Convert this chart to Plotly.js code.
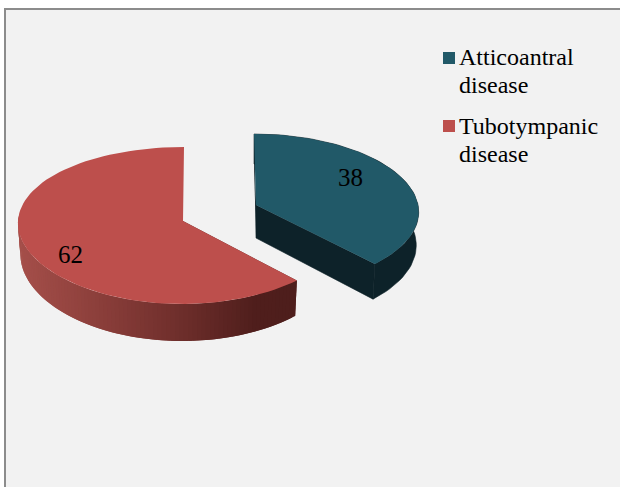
<!DOCTYPE html>
<html>
<head>
<meta charset="utf-8">
<script src="https://cdn.plot.ly/plotly-3.0.1.min.js"></script>
<style>html,body{margin:0;padding:0;background:#fff}#chart{width:620px;height:487px}</style>
</head>
<body>
<div id="chart"></div>
<script>
// Share of chronic ear disease types, drawn as an exploded tilted pie.
const categories = ["Atticoantral disease", "Tubotympanic disease"];
const values = [38, 62];
const legendLines = [["Atticoantral", "disease"], ["Tubotympanic", "disease"]];
const topColors = ["#215968", "#bd4f4c"];
const cutColors = ["#0d2229", "#57211f"];

// Rim shading runs left to right across the drawing: [x, r, g, b].
const rimStops = [
  [[0, 13, 34, 41], [620, 13, 34, 41]],
  [[20, 165, 79, 74], [100, 140, 63, 59], [180, 112, 47, 44], [260, 79, 30, 28], [297, 78, 30, 28]]
];

// Tilted-disc projection for each slice, in axis units.
const discs = [
  {cx: 256, cy: 205, a: 162, k: 0.08, skew: 2, b: 76.7, c: 5.7, d0: 33, d1: 3, bands: 1, shrink: 0.015},
  {cx: 183, cy: 221, a: 165, k: 0.02, skew: -1, b: 78.5, c: 4.5, d0: 31, d1: 6, bands: 90, shrink: 0.015}
];
const labelAnchors = [[350, 177], [70, 254.5]];
const total = values.reduce((s, v) => s + v, 0);

function project(d, theta, r, z) {
  const u = r * Math.sin(theta), v = -r * Math.cos(theta);
  const x = d.a * u * (1 + d.k * v) * (1 - d.shrink * z) + d.skew * v;
  return [d.cx + x, d.cy + d.b * v + d.c * v * v + z * (d.d0 + d.d1 * v)];
}

function poly(points, color, lineWidth) {
  const pts = points.concat([points[0]]);
  return {
    type: "scatter", mode: "lines", fill: "toself", fillcolor: color,
    x: pts.map(p => p[0]), y: pts.map(p => p[1]),
    line: {color: color, width: lineWidth || 0},
    hoverinfo: "skip", showlegend: false
  };
}

function shade(stops, x) {
  if (x <= stops[0][0]) return `rgb(${stops[0].slice(1).join(",")})`;
  for (let i = 1; i < stops.length; i++) {
    if (x <= stops[i][0]) {
      const t = (x - stops[i - 1][0]) / (stops[i][0] - stops[i - 1][0]);
      const c = [1, 2, 3].map(j => Math.round(stops[i - 1][j] + t * (stops[i][j] - stops[i - 1][j])));
      return `rgb(${c.join(",")})`;
    }
  }
  return `rgb(${stops[stops.length - 1].slice(1).join(",")})`;
}

function arc(d, from, to, z, n) {
  const out = [];
  for (let i = 0; i <= n; i++) out.push(project(d, from + (to - from) * i / n, 1, z));
  return out;
}

const traces = [];
let start = 0;
values.forEach((value, i) => {
  const d = discs[i];
  const from = start, to = start + value / total * 2 * Math.PI;
  start = to;

  // Cut face at the leading edge of the slice.
  traces.push(poly([project(d, from, 0, 0), project(d, from, 1, 0), project(d, from, 1, 1), project(d, from, 0, 1)], cutColors[i]));

  // Outer rim, only the part turned towards the viewer. Bands are painted from
  // the far end inwards, each one running under the next so no seams show.
  const rimEnd = Math.min(to, 1.52 * Math.PI);
  const step = (rimEnd - from) / d.bands;
  const segments = d.bands === 1 ? 60 : 4;
  const rimTraces = [];
  for (let b = 0; b < d.bands; b++) {
    const t0 = from + step * b;
    const t1 = Math.min(t0 + step * 2, rimEnd);
    const upper = arc(d, t0, t1, 0, segments), lower = arc(d, t0, t1, 1, segments).reverse();
    const midX = project(d, t0 + step / 2, 1, 0)[0];
    rimTraces.push(poly(upper.concat(lower), shade(rimStops[i], midX), i === 0 ? 0.6 : 0));
  }
  rimTraces.reverse().forEach(t => traces.push(t));

  // Cut face at the trailing edge, seen on the blue slice only.
  if (i === 0) {
    traces.push(poly([project(d, to, 0, 0), project(d, to, 1, 0), project(d, to, 1, 1), project(d, to, 0, 1)], cutColors[i], 0.6));
  }

  // Top face.
  const top = [project(d, from, 0, 0)].concat(arc(d, from, to, 0, 90));
  const face = poly(top, topColors[i]);
  face.name = categories[i];
  traces.push(face);
});

const annotations = values.map((v, i) => ({
  x: labelAnchors[i][0], y: labelAnchors[i][1], xref: "x", yref: "y",
  text: String(v), showarrow: false, xanchor: "center", yanchor: "middle",
  font: {family: "Liberation Serif", size: 25, color: "#000"}
}));

// Key on the right: two lines of text per entry with a square swatch.
const keyRows = [[57, 85], [126, 154]];
const swatchRows = [58, 126];
const keyX = 458;
legendLines.forEach((lines, i) => {
  lines.forEach((line, j) => {
    annotations.push({
      x: keyX, y: keyRows[i][j], xref: "x", yref: "y", text: line, showarrow: false,
      xanchor: "left", yanchor: "middle", xshift: -1,
      font: {family: "Liberation Serif", size: 24, color: "#000"}
    });
  });
});

const shapes = [{
  type: "rect", xref: "x", yref: "y", x0: 5, y0: 9, x1: 640, y1: 510, layer: "below",
  fillcolor: "#f2f2f2", line: {color: "#8c8c8c", width: 2}
}];
swatchRows.forEach((row, i) => {
  shapes.push({
    type: "rect", xref: "x", yref: "y", x0: 443, x1: 455, y0: row - 6, y1: row + 6,
    fillcolor: topColors[i], line: {width: 0}, layer: "above"
  });
});

const layout = {
  width: 620, height: 487, margin: {l: 0, r: 0, t: 0, b: 0},
  paper_bgcolor: "#fff", plot_bgcolor: "rgba(0,0,0,0)", showlegend: false,
  xaxis: {range: [0, 620], visible: false, fixedrange: true},
  yaxis: {range: [487, 0], visible: false, fixedrange: true},
  annotations, shapes
};
Plotly.newPlot("chart", traces, layout, {displayModeBar: false, staticPlot: true});
</script>
</body>
</html>
